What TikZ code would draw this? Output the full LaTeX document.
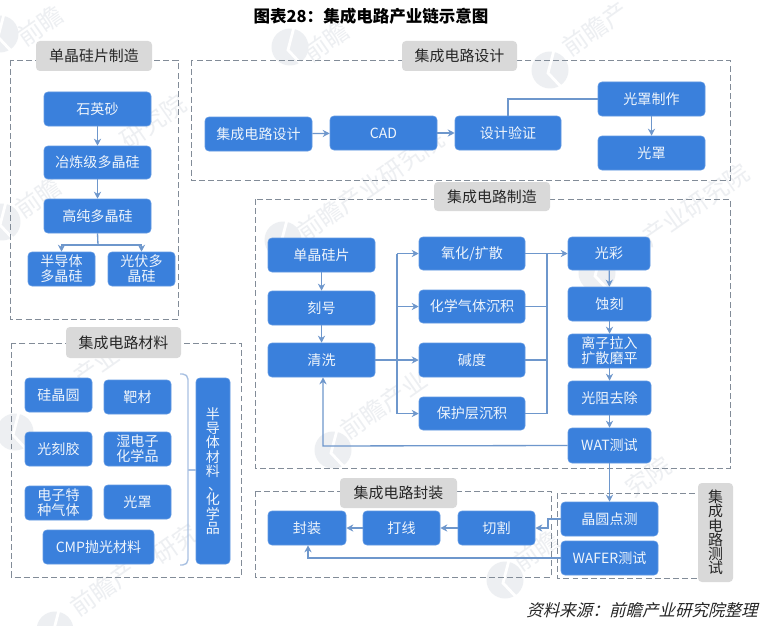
\documentclass[tikz,border=0pt]{standalone}
\usepackage{fontspec}
\setmainfont{Noto Sans CJK SC}
\newfontfamily\srcfont[FakeSlant=0.25]{Noto Sans CJK SC}
\usetikzlibrary{arrows.meta}
\definecolor{boxblue}{HTML}{3A80DC}
\definecolor{linkblue}{HTML}{6E97CC}
\definecolor{bracecol}{HTML}{A9C1E2}
\definecolor{dashcol}{HTML}{828C98}
\definecolor{labelgray}{HTML}{D9D9D9}
\definecolor{wmgray}{HTML}{EDEFF2}
\tikzset{
  bluebox/.style={fill=boxblue,draw=boxblue!80!white,line width=0.3pt,rounded corners=2.2pt,inner sep=0pt,text=white!92!boxblue,font=\fontsize{8}{8.6}\selectfont,align=center},
  vertbox/.style={bluebox,font=\fontsize{8}{8.1}\selectfont},
  graylabel/.style={fill=labelgray,rounded corners=2.2pt,inner sep=0pt,text=black!85,font=\fontsize{8.5}{9.2}\selectfont,align=center},
  vertlabel/.style={graylabel,font=\fontsize{8.5}{8.1}\selectfont},
  zone/.style={draw=dashcol,dash pattern=on 3.4pt off 1.8pt,line width=0.55pt},
  link/.style={draw=linkblue,line width=0.75pt},
  arr/.style={link,-{Stealth[length=4pt,width=4pt]}},
  wmark/.style={text=wmgray,font=\fontsize{14}{14}\selectfont,rotate=35,anchor=west,inner sep=0pt},
}
\newcommand{\bx}[7][bluebox]{\node[#1,minimum width={(#5-#3)*0.02cm},minimum height={(#6-#4)*0.02cm}] (#2) at ({(#3+#5)/2},{(#4+#6)/2}) {#7};}
\newcommand{\logomark}[2]{%
  \fill[wmgray] (#1,#2) circle[radius=0.37cm];
  \draw[white,line width=1.6pt] (#1+4,#2-20) -- (#1-2,#2+3) -- (#1+14,#2+20);
}
\newcommand{\wmt}[4]{\node[wmark] (#1) at (#2,#3) {#4};}
\begin{document}
\begin{tikzpicture}[x=0.02cm,y=-0.02cm]
\useasboundingbox (0,0) rectangle (760,625);
\fill[white] (0,0) rectangle (760,625);
\clip (0,0) rectangle (760,625);
% watermarks
\logomark{0}{34}
\logomark{290}{47}
\logomark{550}{70}
\logomark{2}{222}
\logomark{283}{240}
\logomark{597}{273}
\logomark{333}{450}
\logomark{15}{432}
\logomark{55}{630}
\logomark{505}{580}
\wmt{wa}{20}{40}{前瞻}
\wmt{wb}{306}{56}{前瞻}
\wmt{wc}{565}{50}{前瞻产}
\wmt{wd}{18}{212}{前瞻}
\wmt{wda}{123}{143}{研究院}
\wmt{we}{300}{235}{前瞻产业研究院}
\wmt{wf}{645}{240}{产业研究院}
\wmt{wg}{343}{433}{前瞻产业}
\wmt{wh}{76}{380}{产业}
\wmt{wi}{73}{610}{前瞻产}
\wmt{wia}{155}{558}{研究}
\wmt{wj}{516}{565}{前瞻}
\wmt{wja}{628}{491}{究院}
% zones
\draw[zone] (10.5,60) rectangle (178,319);
\draw[zone] (191,60) rectangle (730,180);
\draw[zone] (255,199) rectangle (730,468);
\draw[zone] (11,343) rectangle (241,577);
\draw[zone] (255,491) rectangle (551,577);
\draw[zone] (557,493) rectangle (710,578);
% zone labels
\bx[graylabel]{la}{36}{41}{152}{71}{单晶硅片制造}
\bx[graylabel]{lb}{402}{41}{517}{71}{集成电路设计}
\bx[graylabel]{lc}{434}{182}{550}{211}{集成电路制造}
\bx[graylabel]{ld}{66}{327}{181}{358}{集成电路材料}
\bx[graylabel]{le}{340}{478}{457}{508}{集成电路封装}
\bx[vertlabel]{lf}{698}{483}{733}{582}{集\\成\\电\\路\\测\\试}
% silicon
\bx{sa}{44}{92}{151}{126}{石英砂}
\bx{sb}{44}{146}{151}{179}{冶炼级多晶硅}
\bx{sc}{44}{199}{151}{233}{高纯多晶硅}
\bx{sd}{28}{252}{95}{286}{半导体\\多晶硅}
\bx{se}{108}{252}{175}{286}{光伏多\\晶硅}
\draw[arr] (sa) -- (sb);
\draw[arr] (sb) -- (sc);
\coordinate (sj) at (98,245);
\draw[link] (sc.south) -- (sj);
\draw[arr] (sj) -| (sd.north);
\draw[arr] (sj) -| (se.north);
% design
\bx{da}{205}{117}{312}{151}{集成电路设计}
\bx{db}{330}{116}{437}{150}{CAD}
\bx{dc}{455}{116}{561}{150}{设计验证}
\bx{dd}{598}{82}{705}{116}{光罩制作}
\bx{de}{598}{136}{705}{170}{光罩}
\draw[arr] (da) -- (db);
\draw[arr] (db) -- (dc);
\draw[link] (dd.west) -| (dc.north);
\draw[arr] (dd) -- (de);
% manufacturing
\bx{ma}{268}{238}{375}{272}{单晶硅片}
\bx{mb}{268}{291}{375}{325}{刻号}
\bx{mc}{268}{343}{375}{377}{清洗}
\bx{na}{419}{237}{525}{270}{氧化/扩散}
\bx{nb}{419}{290}{525}{323}{化学气体沉积}
\bx{nc}{419}{343}{525}{377}{碱度}
\bx{nd}{419}{397}{525}{430}{保护层沉积}
\bx{pa}{568}{237}{650}{270}{光彩}
\bx{pb}{568}{287}{651}{321}{蚀刻}
\bx{pc}{568}{334}{651}{368}{离子拉入\\扩散磨平}
\bx{pd}{568}{381}{651}{415}{光阻去除}
\bx{pe}{568}{428}{651}{463}{WAT测试}
\draw[arr] (ma) -- (mb);
\draw[arr] (mb) -- (mc);
\coordinate (busl) at (397,360);
\coordinate (busr) at (547,253.5);
\draw[link] (mc.east) -- (busl);
\draw[link] (busl |- na.west) -- (busl |- nd.west);
\draw[arr] (busl |- na.west) -- (na.west);
\draw[arr] (busl |- nb.west) -- (nb.west);
\draw[arr] (busl |- nc.west) -- (nc.west);
\draw[arr] (busl |- nd.west) -- (nd.west);
\draw[link] (na.east) -- (busr);
\draw[link] (nb.east) -- (busr |- nb.east);
\draw[link] (nc.east) -- (busr |- nc.east);
\draw[link] (nd.east) -- (busr |- nd.east);
\draw[link] (busr) -- (busr |- nd.east);
\draw[arr] (busr) -- (busr -| pa.west);
\draw[arr] (pa) -- (pb);
\draw[arr] (pb) -- (pc);
\draw[arr] (pc) -- (pd);
\draw[arr] (pd) -- (pe);
\coordinate (fb) at (323,446);
\draw[arr] (pe.west) -- (fb) -- (fb |- mc.south);
% materials
\bx{ra}{25}{378}{92}{412}{硅晶圆}
\bx{rb}{104}{380}{171}{414}{靶材}
\bx{rc}{25}{432}{92}{466}{光刻胶}
\bx{rd}{104}{432}{171}{466}{湿电子\\化学品}
\bx{re}{25}{486}{92}{520}{电子特\\种气体}
\bx{rf}{104}{485}{171}{519}{光罩}
\bx{rg}{43}{530}{154}{564}{CMP抛光材料}
\bx[vertbox]{rh}{196}{378}{230}{564}{半\\导\\体\\材\\料\\\hspace{0.3em}、\hspace{-0.3em}\\化\\学\\品}
\coordinate (bt) at (180,374);
\coordinate (bb) at (180,565);
\coordinate (bm) at (188,470);
\draw[draw=bracecol,line width=0.8pt,rounded corners=3pt] (bt) -- (188,374) -- (188,565) -- (bb);
\draw[draw=bracecol,line width=0.8pt] (bm) -- (rh.west |- bm);
% packaging & test
\bx{ka}{268}{511}{346}{545}{封装}
\bx{kb}{363}{511}{440}{545}{打线}
\bx{kc}{458}{511}{535}{545}{切割}
\bx{ta}{561}{502}{658}{536}{晶圆点测}
\bx{tb}{561}{541}{658}{575}{WAFER测试}
\draw[arr] (kc) -- (kb);
\draw[arr] (kb) -- (ka);
\draw[arr] (pe.south) -- (ta.north);
\coordinate (te) at (548,519);
\draw[arr] (ta.west) -- (te) -- (te |- kc.east) -- (kc.east);
\coordinate (tf) at (308,558);
\draw[arr] (tb.west) -- (tb.west -| tf) -- (tf |- ka.south);
% title & source
\node[font=\fontsize{9.4}{10}\selectfont\bfseries,text=black,inner sep=0pt] (title) at (371,16) {图表28：集成电路产业链示意图};
\node[font=\fontsize{9.4}{10}\selectfont\srcfont,text=black!85,inner sep=0pt,anchor=east] (src) at (758,610) {资料来源：前瞻产业研究院整理};
\end{tikzpicture}
\end{document}
